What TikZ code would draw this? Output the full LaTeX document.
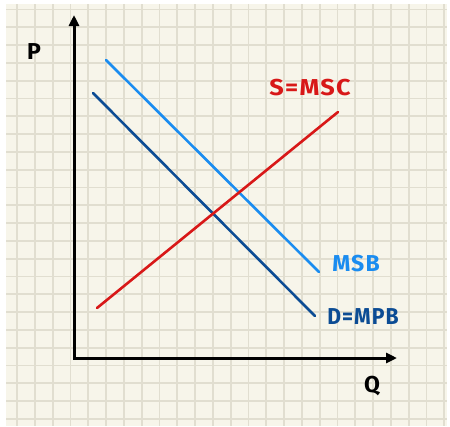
\documentclass[tikz,border=0pt]{standalone}
\usepackage{fontspec}
\setmainfont{Fira Sans}[LetterSpace=5]
\usetikzlibrary{arrows.meta}
\definecolor{paper}{HTML}{F7F5EA}
\definecolor{gridc}{HTML}{E1DED0}
\definecolor{msbblue}{HTML}{1A8CF0}
\definecolor{dblue}{HTML}{0C4C94}
\definecolor{sred}{HTML}{D81818}
\tikzset{
  curve/.style={line width=2.6pt, line cap=round},
  lbl/.style={font=\fontsize{23}{23}\selectfont\bfseries, inner sep=0pt},
  axis/.style={line width=3pt, line join=miter, {Triangle[length=11pt,width=10pt]}-{Triangle[length=11pt,width=10pt]}}
}
\begin{document}
\begin{tikzpicture}[x=1pt,y=-1pt]
\useasboundingbox (0,0) rectangle (450,426);
\fill[white] (0,0) rectangle (450,426);
\fill[paper] (6,4) rectangle (447,426);
\begin{scope}
\clip (6,4) rectangle (447,426);
\foreach \k in {0,...,24} \draw[gridc, line width=1.8pt] ({17+17.8*\k},4) -- ({17+17.8*\k},426);
\foreach \k in {0,...,23} \draw[gridc, line width=1.8pt] (6,{9.5+17.8*\k}) -- (447,{9.5+17.8*\k});
\end{scope}
% axes
\coordinate (ytop) at (74,15);
\coordinate (origin) at (74,358);
\coordinate (xend) at (397,358);
\draw[axis] (ytop) -- (origin) -- (xend);
% curves
\coordinate (msbA) at (106,60);
\coordinate (msbB) at (319,272);
\coordinate (dA) at (93,93);
\coordinate (dB) at (315,316);
\coordinate (sA) at (97,308);
\coordinate (sB) at (338,112);
\draw[curve, msbblue] (msbA) -- (msbB);
\draw[curve, dblue] (dA) -- (dB);
\draw[curve, sred] (sA) -- (sB);
% labels
\node[lbl] (P) at (34,52) {P};
\node[lbl] (Q) at (372,386) {Q};
\node[lbl, sred, xscale=1.1] (S) at (310,88) {S=MSC};
\node[lbl, msbblue] (MSB) at (356,264) {MSB};
\node[lbl, dblue, xscale=0.92] (D) at (363,317) {D=MPB};
\end{tikzpicture}
\end{document}
